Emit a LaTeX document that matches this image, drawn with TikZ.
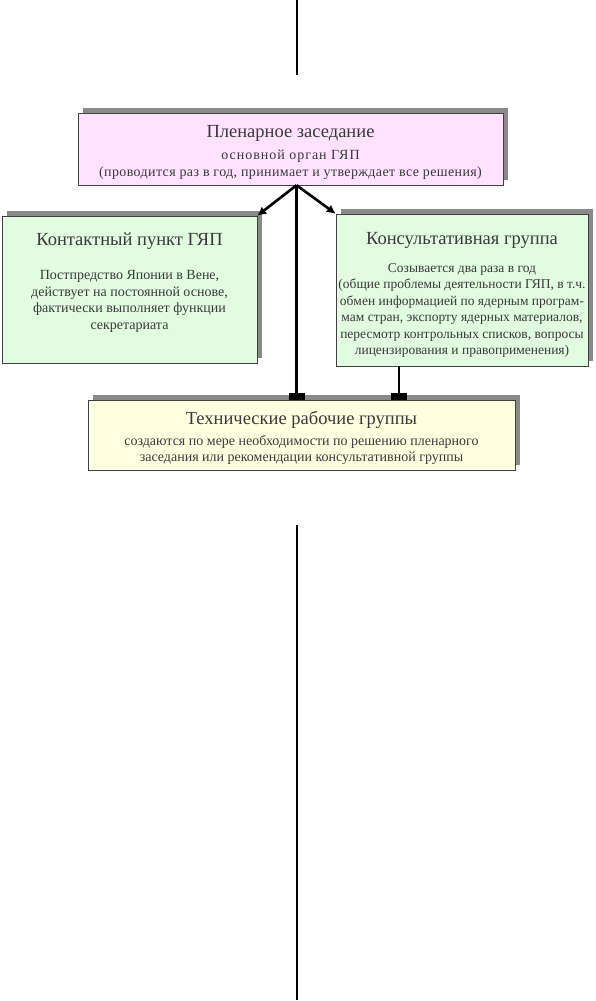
\documentclass[tikz,border=0pt]{standalone}
\usepackage{fontspec}
\setmainfont{Liberation Serif}
\usetikzlibrary{calc,arrows.meta,shadows}
\definecolor{plenfill}{HTML}{FFE2FF}
\definecolor{groupfill}{HTML}{E2FCE2}
\definecolor{techfill}{HTML}{FFFFE2}
\definecolor{textgray}{HTML}{3A3A3A}
\definecolor{shadowgray}{HTML}{8A8A8A}
\newcommand{\boxtitle}[1]{{\fontsize{18.5}{21}\selectfont #1}}
\newcommand{\spaced}[2]{{\addfontfeatures{LetterSpace=#1}#2}}

\tikzset{
  orgbox/.style={draw=black!75, thin, inner sep=0pt,
    drop shadow={shadow xshift=5pt, shadow yshift=5pt, fill=shadowgray, opacity=1}},
  boxtext/.style={align=center, text=textgray, inner sep=0pt,
    font=\fontsize{14}{16.5}\selectfont},
  linkarrow/.style={line width=2.6pt, -{Latex[length=9pt,width=9pt]}},
  linkbar/.style={line width=2.6pt, -{Rectangle[length=7pt,width=16pt]}},
  pageline/.style={line width=1.2pt}
}

\begin{document}
\begin{tikzpicture}[x=1pt, y={(0,-1pt)}]
  \useasboundingbox (0,0) rectangle (595,1001);

  % boxes
  \node[orgbox, fill=plenfill, minimum width=425pt, minimum height=72pt] (plen) at (290.5,149) {};
  \node[orgbox, fill=groupfill, minimum width=255pt, minimum height=147pt] (contact) at (129.5,289.5) {};
  \node[orgbox, fill=groupfill, minimum width=252pt, minimum height=152pt] (consult) at (462,290) {};
  \node[orgbox, fill=techfill, minimum width=427pt, minimum height=70pt] (tech) at (301.5,435) {};

  % texts
  \node[boxtext, yshift=-3pt] (plen text) at (plen.center)
    {\boxtitle{Пленарное заседание}\\[6pt]
     \spaced{7}{основной орган ГЯП}\\
     \spaced{2.7}{(проводится раз в год, принимает и утверждает все решения)}};
  \node[boxtext, yshift=7pt] (contact text) at (contact.center)
    {\boxtitle{Контактный пункт ГЯП}\\[18pt]
     Постпредство Японии в Вене,\\
     действует на постоянной основе,\\
     фактически выполняет функции\\
     секретариата};
  \node[boxtext, yshift=-5pt, font=\fontsize{13.5}{16.5}\selectfont] (consult text) at (consult.center)
    {\boxtitle{Консультативная группа}\\[11pt]
     Созывается два раза в год\\
     (общие проблемы деятельности ГЯП, в т.ч.\\
     обмен информацией по ядерным програм-\\
     мам стран, экспорту ядерных материалов,\\
     пересмотр контрольных списков, вопросы\\
     лицензирования и правоприменения)};
  \node[boxtext, yshift=-3pt] (tech text) at (tech.center)
    {\boxtitle{Технические рабочие группы}\\[4pt]
     создаются по мере необходимости по решению пленарного\\
     заседания или рекомендации консультативной группы};

  \coordinate (cgfoot) at ($(consult.south west)!0.25!(consult.south east)$);
  \coordinate (plenfoot) at ([xshift=6pt]plen.south);

  \draw[linkarrow] (plenfoot) -- (contact.north east);
  \draw[linkarrow] (plenfoot) -- (consult.north west);
  \draw[linkbar] (plenfoot) -- (plenfoot |- tech.north);
  \draw[linkbar] (cgfoot) -- (cgfoot |- tech.north);

  % page divider
  \coordinate (top a) at (297,0);
  \coordinate (top b) at (297,75);
  \coordinate (bot a) at (297,525);
  \coordinate (bot b) at (297,1000);
  \draw[pageline] (top a) -- (top b);
  \draw[pageline] (bot a) -- (bot b);
\end{tikzpicture}
\end{document}
